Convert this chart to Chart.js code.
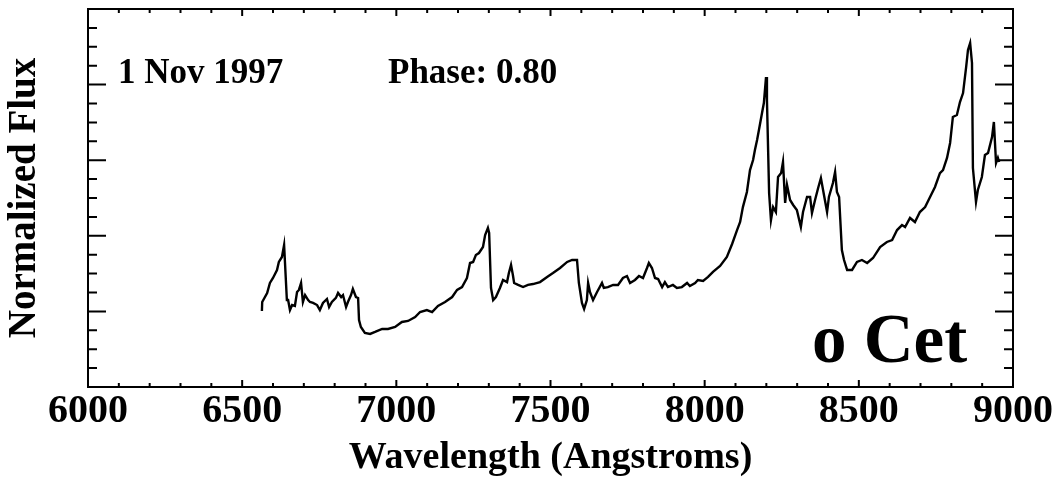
<!DOCTYPE html>
<html><head><meta charset="utf-8">
<script src="https://cdn.jsdelivr.net/npm/chart.js@4"></script>
<style>html,body{margin:0;padding:0;background:#fff}canvas{display:block}</style>
</head><body>
<canvas id="c" width="1057" height="486"></canvas>
<script>
// ---- data ----
const wavelength = [6564,6565,6581,6590,6600,6613,6619,6629,6636,6645,6649,6655,6662,6671,6678,6684,6691,6697,6704,6714,6720,6730,6743,6752,6762,6775,6782,6791,6804,6811,6821,6827,6837,6843,6853,6859,6869,6876,6879,6885,6898,6915,6931,6954,6973,6996,7018,7038,7061,7077,7099,7116,7135,7158,7181,7197,7213,7229,7239,7249,7258,7268,7281,7288,7297,7301,7307,7314,7323,7336,7346,7359,7365,7372,7378,7382,7395,7411,7427,7443,7466,7489,7508,7531,7554,7570,7586,7592,7602,7609,7618,7622,7628,7638,7651,7667,7673,7686,7703,7719,7735,7748,7758,7774,7787,7800,7813,7819,7829,7839,7849,7862,7871,7881,7897,7910,7926,7943,7952,7969,7978,7995,8011,8027,8050,8072,8089,8105,8115,8124,8137,8147,8157,8163,8170,8176,8186,8192,8199,8202,8209,8215,8222,8231,8238,8248,8254,8261,8267,8277,8287,8299,8312,8319,8332,8342,8348,8358,8368,8377,8384,8397,8403,8416,8423,8429,8436,8445,8452,8462,8478,8494,8510,8527,8546,8569,8591,8608,8624,8640,8650,8666,8682,8698,8715,8731,8747,8763,8773,8786,8796,8805,8818,8828,8838,8848,8854,8861,8867,8870,8880,8886,8899,8909,8919,8932,8938,8945,8951,8955];
const flux = [0.503,0.562,0.622,0.688,0.721,0.774,0.827,0.860,0.939,0.575,0.575,0.509,0.542,0.536,0.628,0.642,0.688,0.562,0.608,0.575,0.562,0.556,0.542,0.509,0.556,0.582,0.529,0.562,0.589,0.622,0.595,0.608,0.529,0.562,0.608,0.648,0.595,0.589,0.443,0.397,0.357,0.351,0.364,0.384,0.384,0.397,0.430,0.437,0.463,0.496,0.509,0.496,0.536,0.562,0.595,0.642,0.661,0.721,0.820,0.827,0.873,0.886,0.926,1.005,1.052,1.019,0.655,0.575,0.595,0.655,0.708,0.694,0.754,0.807,0.741,0.688,0.675,0.661,0.675,0.681,0.694,0.728,0.754,0.787,0.827,0.840,0.840,0.688,0.556,0.516,0.575,0.688,0.628,0.575,0.628,0.688,0.655,0.661,0.675,0.675,0.721,0.734,0.688,0.708,0.734,0.721,0.787,0.820,0.787,0.721,0.714,0.661,0.694,0.661,0.675,0.655,0.661,0.688,0.668,0.688,0.708,0.701,0.728,0.761,0.800,0.860,0.946,1.038,1.091,1.190,1.290,1.435,1.501,1.567,1.634,1.700,1.812,1.878,2.050,1.898,1.283,1.104,1.190,1.157,1.389,1.415,1.488,1.217,1.336,1.237,1.204,1.171,1.058,1.157,1.257,1.257,1.151,1.237,1.316,1.382,1.303,1.157,1.257,1.349,1.422,1.290,1.257,0.906,0.840,0.774,0.774,0.827,0.840,0.820,0.853,0.926,0.959,0.972,1.038,1.071,1.058,1.118,1.091,1.157,1.190,1.257,1.323,1.415,1.435,1.515,1.614,1.786,1.799,1.885,1.944,2.116,2.229,2.275,2.143,1.448,1.224,1.303,1.389,1.534,1.548,1.653,1.753,1.481,1.515,1.488];
const xTickValues = [6000,6500,7000,7500,8000,8500,9000];
const xMinorStep = 100;
const yRange = [0, 2.5];
const yMajorStep = 0.5;
const yMinorStep = 0.125;
const dateLabel = '1 Nov 1997';
const phaseLabel = 'Phase: 0.80';
const starLabel = 'o Cet';
const xTitle = 'Wavelength (Angstroms)';
const yTitle = 'Normalized Flux';

const SERIF = '"Liberation Serif", "Times New Roman", Times, serif';

const framePlugin = {
  id: 'frameTicks',
  beforeDraw(chart) {
    const ctx = chart.ctx;
    ctx.save();
    ctx.fillStyle = '#fff';
    ctx.fillRect(0, 0, chart.width, chart.height);
    ctx.restore();
  },
  afterDraw(chart) {
    const {ctx, chartArea: a, scales: {x, y}} = chart;
    ctx.save();
    ctx.strokeStyle = '#000';
    ctx.lineWidth = 2;
    ctx.strokeRect(a.left, a.top, a.right - a.left, a.bottom - a.top);
    ctx.beginPath();
    for (let v = x.min; v <= x.max + 1e-6; v += xMinorStep) {
      const px = x.getPixelForValue(v);
      const major = xTickValues.includes(Math.round(v));
      const len = major ? 7 : 4;
      ctx.moveTo(px, a.bottom); ctx.lineTo(px, a.bottom - len);
      ctx.moveTo(px, a.top); ctx.lineTo(px, a.top + len);
    }
    for (let v = y.min; v <= y.max + 1e-6; v += yMinorStep) {
      const py = y.getPixelForValue(v);
      const r = v / yMajorStep;
      const major = Math.abs(r - Math.round(r)) < 1e-6;
      const len = major ? 18 : 9;
      ctx.moveTo(a.left, py); ctx.lineTo(a.left + len, py);
      ctx.moveTo(a.right, py); ctx.lineTo(a.right - len, py);
    }
    ctx.stroke();
    ctx.fillStyle = '#000';
    ctx.textAlign = 'left';
    ctx.textBaseline = 'alphabetic';
    ctx.font = 'bold 35px ' + SERIF;
    ctx.fillText(dateLabel, 118, 83);
    ctx.fillText(phaseLabel, 388, 83);
    ctx.font = 'bold 69px ' + SERIF;
    ctx.fillText(starLabel, 812, 362);
    ctx.restore();
  }
};

new Chart(document.getElementById('c'), {
  type: 'line',
  data: {
    datasets: [{
      data: wavelength.map((w, i) => ({x: w, y: flux[i]})),
      borderColor: '#000',
      borderWidth: 2.4,
      pointRadius: 0,
      tension: 0,
      fill: false
    }]
  },
  options: {
    responsive: false,
    animation: false,
    devicePixelRatio: 1,
    layout: {padding: {top: 9, right: 44, left: 0, bottom: 0}},
    plugins: {legend: {display: false}, tooltip: {enabled: false}},
    scales: {
      x: {
        type: 'linear',
        min: xTickValues[0],
        max: xTickValues[xTickValues.length - 1],
        afterFit(s) { s.height = 99; },
        afterBuildTicks(s) { s.ticks = xTickValues.map(v => ({value: v})); },
        grid: {display: false, drawTicks: false},
        border: {display: false},
        ticks: {padding: 1, color: '#000', maxRotation: 0, autoSkip: false,
          callback: v => String(v),
          font: {family: SERIF, size: 40, weight: 'bold'}},
        title: {display: true, text: xTitle, color: '#000',
          font: {family: SERIF, size: 38, weight: 'bold'}, padding: {top: 0, bottom: 5}}
      },
      y: {
        type: 'linear',
        min: yRange[0],
        max: yRange[1],
        afterFit(s) { s.width = 88; },
        grid: {display: false, drawTicks: false},
        border: {display: false},
        ticks: {display: false},
        title: {display: true, text: yTitle, color: '#000',
          font: {family: SERIF, size: 39, weight: 'bold'}, padding: {top: 2, bottom: 0}}
      }
    }
  },
  plugins: [framePlugin]
});
</script>
</body></html>
